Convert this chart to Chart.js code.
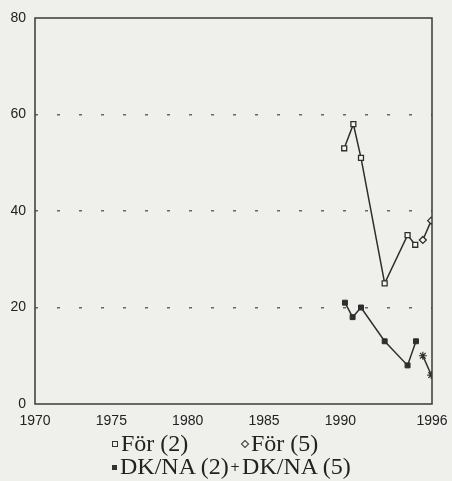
<!DOCTYPE html>
<html>
<head>
<meta charset="utf-8">
<script src="https://cdn.jsdelivr.net/npm/chart.js@4.4.1/dist/chart.umd.min.js"></script>
<style>
  html, body { margin: 0; padding: 0; background: #efefec; }
  #wrap { position: relative; width: 452px; height: 481px; }
  #legend { position: absolute; left: 0; top: 0; width: 452px; height: 481px; pointer-events: none;
            font-family: "Liberation Serif", "Times New Roman", serif; font-size: 24px; color: #222; }
  .item { position: absolute; line-height: 24px; white-space: nowrap; }
  .mk { display: inline-block; vertical-align: middle; margin-right: 3px; position: relative; top: -1px; }
</style>
</head>
<body>
<div id="wrap">
  <canvas id="myChart" width="452" height="481"></canvas>
  <div id="legend"></div>
</div>
<script>
// Tick labels
const xTicks = [1970, 1975, 1980, 1985, 1990, 1996];
const yTicks = [0, 20, 40, 60, 80];

// Series labels
const seriesNames = ["För (2)", "För (5)", "DK/NA (2)", "DK/NA (5)"];

// Series values (year, percent)
const forYears2 = [1990.25, 1990.85, 1991.35, 1992.9, 1994.4, 1994.9];
const forValues2 = [53, 58, 51, 25, 35, 33];
const forYears5 = [1995.4, 1995.95];
const forValues5 = [34, 38];
const dkYears2 = [1990.3, 1990.8, 1991.35, 1992.9, 1994.4, 1994.95];
const dkValues2 = [21, 18, 20, 13, 8, 13];
const dkYears5 = [1995.4, 1995.95];
const dkValues5 = [10, 6];

function toPoints(xs, ys) {
    return xs.map((x, i) => ({ x: x, y: ys[i] }));
}

const lineColor = "#2e2e2e";

// Ram runt plottytan
const framePlugin = {
    id: "frame",
    afterDraw(chart) {
        const a = chart.chartArea;
        const ctx = chart.ctx;
        ctx.save();
        ctx.strokeStyle = "#3a3a3a";
        ctx.lineWidth = 1.5;
        ctx.strokeRect(a.left, a.top, a.right - a.left, a.bottom - a.top);
        ctx.restore();
    }
};

const ctx = document.getElementById("myChart").getContext("2d");
new Chart(ctx, {
    type: "line",
    data: {
        datasets: [
            {
                label: seriesNames[0],
                data: toPoints(forYears2, forValues2),
                borderColor: lineColor, borderWidth: 1.5,
                pointStyle: "rect", pointRadius: 3.5,
                pointBackgroundColor: "#f4f4f2", pointBorderColor: lineColor, pointBorderWidth: 1.3
            },
            {
                label: seriesNames[1],
                data: toPoints(forYears5, forValues5),
                borderColor: lineColor, borderWidth: 1.5,
                pointStyle: "rectRot", pointRadius: 3.5,
                pointBackgroundColor: "#f4f4f2", pointBorderColor: lineColor, pointBorderWidth: 1.3
            },
            {
                label: seriesNames[2],
                data: toPoints(dkYears2, dkValues2),
                borderColor: lineColor, borderWidth: 1.5,
                pointStyle: "rect", pointRadius: 3.5,
                pointBackgroundColor: lineColor, pointBorderColor: lineColor, pointBorderWidth: 1
            },
            {
                label: seriesNames[3],
                data: toPoints(dkYears5, dkValues5),
                borderColor: lineColor, borderWidth: 1.5,
                pointStyle: "star", pointRadius: 4,
                pointBorderColor: lineColor, pointBorderWidth: 1.2
            }
        ]
    },
    options: {
        responsive: false,
        animation: false,
        layout: { padding: { left: 0, right: 20, top: 18, bottom: 55 } },
        plugins: {
            legend: { display: false },
            tooltip: { enabled: false }
        },
        elements: { line: { tension: 0 } },
        scales: {
            x: {
                type: "linear",
                min: 1970, max: 1996,
                afterBuildTicks: s => { s.ticks = xTicks.map(v => ({ value: v })); },
                afterFit: s => { s.height = 22; s.paddingLeft = 0; s.paddingRight = 0; },
                grid: { display: false, drawTicks: false },
                border: { display: false },
                ticks: {
                    padding: 9, maxRotation: 0, autoSkip: false,
                    color: "#222",
                    font: { family: "Liberation Sans, Arial, sans-serif", size: 14 },
                    callback: v => String(v)
                }
            },
            y: {
                min: 0, max: 80,
                afterBuildTicks: s => { s.ticks = yTicks.map(v => ({ value: v })); },
                afterFit: s => { s.width = 35; },
                grid: {
                    drawTicks: false,
                    color: c => (c.tick.value === 0 || c.tick.value === 80) ? "rgba(0,0,0,0)" : "#666",
                    lineWidth: 1.4
                },
                border: { display: false, dash: [3, 19] },
                ticks: {
                    padding: 9,
                    color: "#222",
                    font: { family: "Liberation Sans, Arial, sans-serif", size: 14 }
                }
            }
        }
    },
    plugins: [framePlugin]
});

// Förklaring under diagrammet
const legendPos = [
    { x: 115, y: 443, marker: "open" },
    { x: 245, y: 443, marker: "diamond" },
    { x: 115, y: 466, marker: "filled" },
    { x: 233, y: 466, marker: "star" }
];
const legendEl = document.getElementById("legend");
seriesNames.forEach((name, i) => {
    const p = legendPos[i];
    const item = document.createElement("div");
    item.className = "item";
    item.style.left = (p.x - 3) + "px";
    item.style.top = (p.y - 12) + "px";
    const mk = document.createElement("span");
    mk.className = "mk";
    if (p.marker === "open") {
        mk.style.cssText += "width:4px;height:4px;border:1px solid #333;";
    } else if (p.marker === "diamond") {
        mk.style.cssText += "width:4px;height:4px;border:1px solid #333;transform:rotate(45deg);";
    } else if (p.marker === "filled") {
        mk.style.cssText += "width:5px;height:5px;background:#333;";
    } else {
        mk.textContent = "+";
        mk.style.cssText += "font-family:'DejaVu Sans',sans-serif;font-size:12px;line-height:12px;margin-right:2px;";
    }
    item.appendChild(mk);
    item.appendChild(document.createTextNode(name));
    legendEl.appendChild(item);
});
</script>
</body>
</html>
